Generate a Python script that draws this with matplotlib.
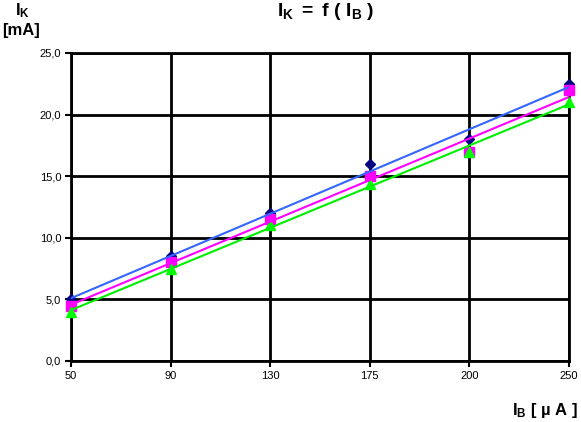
import numpy as np
import matplotlib
matplotlib.use('Agg')
import matplotlib.pyplot as plt
from matplotlib.ticker import FuncFormatter

plt.rcParams['font.family'] = ['Liberation Sans', 'DejaVu Sans']
plt.rcParams['mathtext.fontset'] = 'custom'
plt.rcParams['mathtext.rm'] = 'Liberation Sans'
plt.rcParams['mathtext.bf'] = 'Liberation Sans:bold'
plt.rcParams['mathtext.it'] = 'Liberation Sans:italic'

# Base current categories (uA)
ib_labels = ['50', '90', '130', '175', '200', '250']

# Collector current (mA) for the three measured series
ik_diamond = [5.0, 8.5, 12.0, 16.0, 18.0, 22.5]
ik_square = [4.5, 8.0, 11.5, 15.0, 17.0, 22.0]
ik_triangle = [4.0, 7.5, 11.0, 14.4, 17.0, 21.0]

x = np.arange(len(ib_labels))

fig = plt.figure(figsize=(5.81, 4.22), dpi=100)
ax = fig.add_axes([71 / 581, 1 - 361 / 422, 498 / 581, 308 / 422])

series = [
    (ik_diamond, 'D', '#000080', '#3366FF', 5.5),
    (ik_square, 's', '#FF00FF', '#FF00FF', 6.5),
    (ik_triangle, '^', '#00FF00', '#00EE00', 6.5),
]

# markers first, trendlines drawn on top like the original
for vals, m, mc, lc, ms in series:
    ax.plot(x, vals, ls='none', marker=m, color=mc, markersize=ms, zorder=3,
            clip_on=False)

# linear trendlines
for vals, m, mc, lc, ms in series:
    k, b = np.polyfit(x, vals, 1)
    ax.plot(x, k * x + b, color=lc, lw=1.5, zorder=4)

ax.set_xlim(0, len(ib_labels) - 1)
ax.set_ylim(0, 25)
ax.set_xticks(x)
ax.set_xticklabels(ib_labels)
ax.set_yticks(np.arange(0, 26, 5))
ax.yaxis.set_major_formatter(FuncFormatter(lambda v, p: f'{v:.1f}'.replace('.', ',')))
ax.tick_params(labelsize=8, length=4, width=1.5, color='black', pad=3)

ax.grid(True, color='black', lw=2)
ax.set_axisbelow(True)
for s in ax.spines.values():
    s.set_linewidth(2)
    s.set_color('black')

fig.text(0.561, 0.997, r'$\mathbf{I_K\ =\ f\ (\ I_B\ )}$', ha='center', va='top',
         fontsize=14)
fig.text(0.025, 0.997, r'$\mathbf{I_K}$', ha='left', va='top', fontsize=12)
fig.text(0.003, 0.945, '[mA]', ha='left', va='top', fontsize=12, fontweight='bold')
fig.text(0.995, 0.005, r'$\mathbf{I_B}$' + ' [ µ A ]', ha='right', va='bottom',
         fontsize=12, fontweight='bold')

fig.savefig('out.png', dpi=100)
